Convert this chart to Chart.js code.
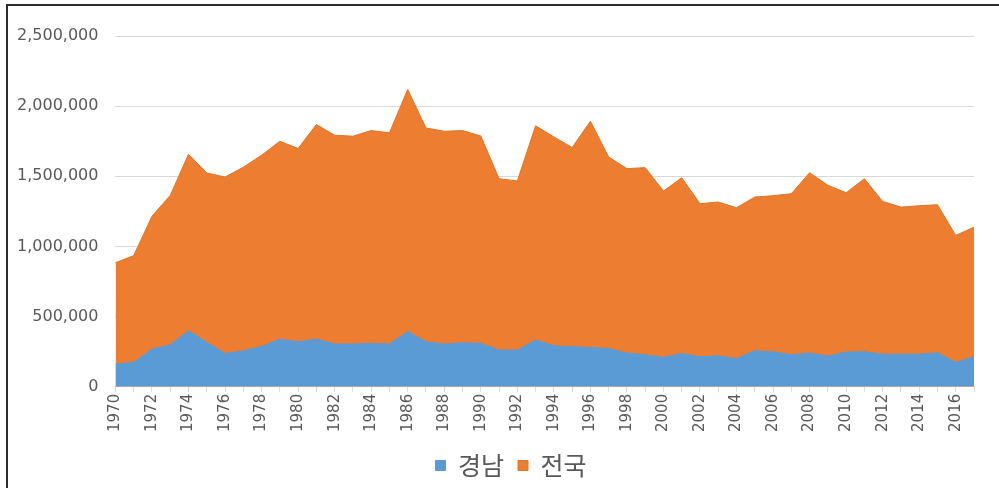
<!DOCTYPE html>
<html>
<head>
<meta charset="utf-8">
<script src="https://cdn.jsdelivr.net/npm/chart.js@4.4.1/dist/chart.umd.min.js"></script>
<style>
    html, body { margin: 0; padding: 0; background: #fff; }
    #wrap { position: relative; width: 999px; height: 488px; }
    #frame {
        position: absolute; left: 6px; top: 4px; right: 0; bottom: 0;
        border-left: 2px solid #2b2b2b; border-top: 2px solid #2b2b2b;
        pointer-events: none;
    }
    canvas { position: absolute; left: 0; top: 0; }
</style>
</head>
<body>
<div id="wrap">
    <canvas id="area-chart" width="999" height="488"></canvas>
    <div id="frame"></div>
</div>
<script>
    // years 1970 - 2017
    var years = [];
    for (var y = 1970; y <= 2017; y++) years.push(String(y));

    // 경남
    var gyeongnam = [
        162000, 174000, 269000, 299000, 400000, 317000, 238000, 257000, 288000, 340000,
        321000, 340000, 305000, 305000, 310000, 305000, 395000, 321000, 305000, 314000,
        310000, 262000, 262000, 333000, 293000, 286000, 281000, 274000, 241000, 229000,
        210000, 238000, 214000, 221000, 202000, 257000, 250000, 229000, 241000, 219000,
        248000, 250000, 233000, 233000, 233000, 243000, 174000, 214000
    ];

    // 전국
    var jeonguk = [
        884000, 935000, 1215000, 1364000, 1657000, 1524000, 1495000, 1565000, 1650000, 1750000,
        1698000, 1869000, 1793000, 1786000, 1826000, 1810000, 2119000, 1845000, 1821000, 1826000,
        1788000, 1483000, 1467000, 1860000, 1781000, 1705000, 1893000, 1638000, 1555000, 1562000,
        1395000, 1490000, 1305000, 1317000, 1276000, 1352000, 1362000, 1376000, 1526000, 1436000,
        1383000, 1483000, 1321000, 1281000, 1290000, 1298000, 1079000, 1138000
    ];

    var yTicks = [0, 500000, 1000000, 1500000, 2000000, 2500000];

    // nudge the legend to the right, like the original
    var legendShift = {
        id: "legendShift",
        afterLayout: function (chart) {
            chart.legend.left += 24;
            chart.legend.right += 24;
        }
    };

    var ctx = document.getElementById("area-chart").getContext("2d");
    var myChart = new Chart(ctx, {
        type: "line",
        data: {
            labels: years,
            datasets: [{
                    label: "경남",
                    data: gyeongnam,
                    backgroundColor: "#5B9BD5",
                    borderColor: "#5B9BD5",
                    borderWidth: 1,
                    fill: "origin",
                    pointRadius: 0,
                    tension: 0
                },
                {
                    label: "전국",
                    data: jeonguk,
                    backgroundColor: "#ED7D31",
                    borderColor: "#E07628",
                    borderWidth: 1,
                    fill: "origin",
                    pointRadius: 0,
                    tension: 0
                }
            ]
        },
        plugins: [legendShift],
        options: {
            responsive: false,
            animation: false,
            layout: {
                padding: { left: 0, right: 25, top: 36, bottom: 0 }
            },
            plugins: {
                tooltip: { enabled: false },
                legend: {
                    position: "bottom",
                    labels: {
                        color: "#595959",
                        font: { family: "'Noto Sans CJK KR', 'Noto Sans'", size: 25 },
                        boxWidth: 10,
                        boxHeight: 10,
                        padding: 14
                    }
                }
            },
            scales: {
                x: {
                    afterFit: function (axis) {
                        axis.height += 5;
                    },
                    grid: {
                        drawOnChartArea: false,
                        color: "#d9d9d9",
                        tickLength: 5
                    },
                    border: { color: "#d9d9d9" },
                    ticks: {
                        autoSkip: false,
                        maxRotation: 90,
                        minRotation: 90,
                        padding: 2,
                        color: "#595959",
                        font: { family: "'DejaVu Sans'", size: 15 },
                        callback: function (val, i) {
                            return i % 2 === 0 ? years[i] : "";
                        }
                    }
                },
                y: {
                    min: 0,
                    max: 2500000,
                    afterBuildTicks: function (axis) {
                        axis.ticks = yTicks.map(function (v) { return { value: v }; });
                    },
                    grid: {
                        color: "#d9d9d9",
                        drawTicks: false
                    },
                    border: { display: false },
                    ticks: {
                        padding: 17,
                        color: "#595959",
                        font: { family: "'DejaVu Sans'", size: 16 },
                        callback: function (v) {
                            return v.toLocaleString("en-US");
                        }
                    }
                }
            }
        }
    });
</script>
</body>
</html>
